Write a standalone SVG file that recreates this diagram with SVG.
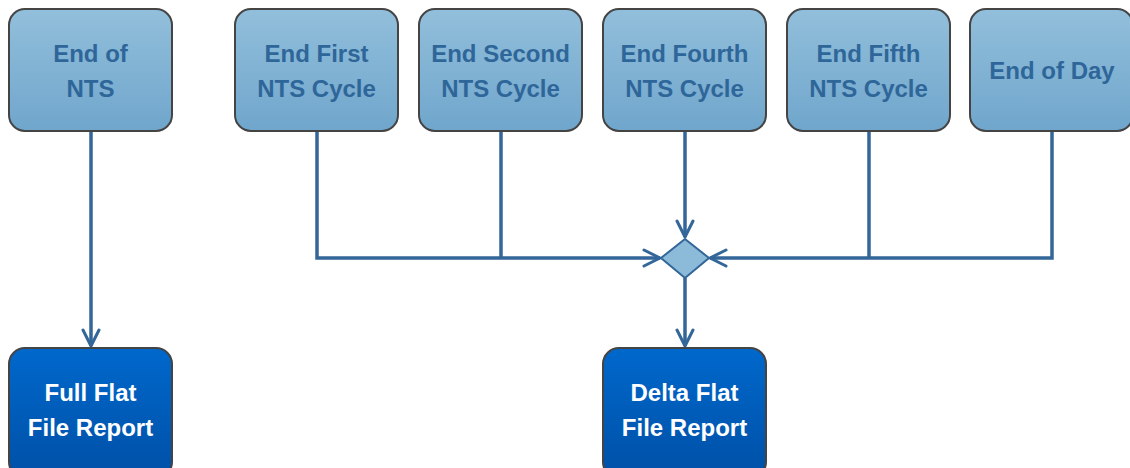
<svg xmlns="http://www.w3.org/2000/svg" width="1130" height="468" viewBox="0 0 1130 468">
<defs>
<linearGradient id="gTop" x1="0" y1="0" x2="0" y2="1">
<stop offset="0" stop-color="#92bfdb"/>
<stop offset="1" stop-color="#70a6cc"/>
</linearGradient>
<linearGradient id="gBot" x1="0" y1="0" x2="0" y2="1">
<stop offset="0" stop-color="#0068cc"/>
<stop offset="1" stop-color="#0050a6"/>
</linearGradient>
<marker id="arr" viewBox="0 0 20 20" refX="18" refY="10" markerWidth="20" markerHeight="20" markerUnits="userSpaceOnUse" orient="auto">
<path d="M2,2 L18,10 L2,18" fill="none" stroke="#336699" stroke-width="3" stroke-linecap="round" stroke-linejoin="round"/>
</marker>
<style>
.top{fill:url(#gTop);stroke:#444;stroke-width:2}
.bot{fill:url(#gBot);stroke:#444;stroke-width:2}
.tt{font-family:"Liberation Sans",Arial,sans-serif;font-weight:bold;font-size:24px;fill:#2f6699;text-anchor:middle}
.bt{font-family:"Liberation Sans",Arial,sans-serif;font-weight:bold;font-size:24px;fill:#ffffff;text-anchor:middle}
.c{fill:none;stroke:#336699;stroke-width:3.5}
</style>
</defs>
<rect width="1130" height="468" fill="#ffffff"/>
<g id="connectors">
<path class="c" d="M91,131 V346" marker-end="url(#arr)"/>
<path class="c" d="M317,131 V258 H660" marker-end="url(#arr)"/>
<path class="c" d="M501,131 V258"/>
<path class="c" d="M685,131 V237" marker-end="url(#arr)"/>
<path class="c" d="M1052,131 V258 H710" marker-end="url(#arr)"/>
<path class="c" d="M869,131 V258"/>
<path class="c" d="M685,278 V346" marker-end="url(#arr)"/>
</g>
<g id="n-endnts"><rect class="top" x="9" y="9" width="163" height="122" rx="16"/><text class="tt" x="90.5" y="62">End of</text><text class="tt" x="90.5" y="97">NTS</text></g>
<g id="n-first"><rect class="top" x="235" y="9" width="163" height="122" rx="16"/><text class="tt" x="316.5" y="62">End First</text><text class="tt" x="316.5" y="97">NTS Cycle</text></g>
<g id="n-second"><rect class="top" x="419" y="9" width="163" height="122" rx="16"/><text class="tt" x="500.5" y="62">End Second</text><text class="tt" x="500.5" y="97">NTS Cycle</text></g>
<g id="n-fourth"><rect class="top" x="603" y="9" width="163" height="122" rx="16"/><text class="tt" x="684.5" y="62">End Fourth</text><text class="tt" x="684.5" y="97">NTS Cycle</text></g>
<g id="n-fifth"><rect class="top" x="787" y="9" width="163" height="122" rx="16"/><text class="tt" x="868.5" y="62">End Fifth</text><text class="tt" x="868.5" y="97">NTS Cycle</text></g>
<g id="n-day"><rect class="top" x="970" y="9" width="163" height="122" rx="16"/><text class="tt" x="1052" y="79">End of Day</text></g>
<g id="n-merge"><polygon points="685,239 709,258 685,278 661,258" fill="#8bbbd8" stroke="#336699" stroke-width="2"/></g>
<g id="n-full"><rect class="bot" x="9" y="348" width="163" height="130" rx="16"/><text class="bt" x="90.5" y="401">Full Flat</text><text class="bt" x="90.5" y="436">File Report</text></g>
<g id="n-delta"><rect class="bot" x="603" y="348" width="163" height="130" rx="16"/><text class="bt" x="684.5" y="401">Delta Flat</text><text class="bt" x="684.5" y="436">File Report</text></g>
</svg>
